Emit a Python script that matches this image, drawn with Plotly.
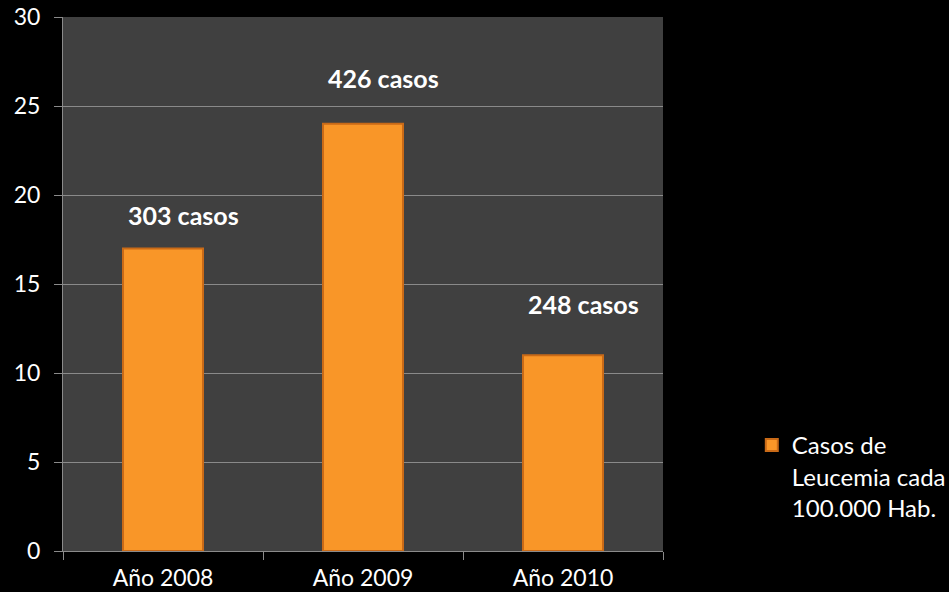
import plotly.graph_objects as go

# Leucemia: casos cada 100.000 habitantes por año
categorias = ["Año 2008", "Año 2009", "Año 2010"]
tasas = [17, 24, 11]
etiquetas = ["303 casos", "426 casos", "248 casos"]
posiciones_etiqueta = [18.9, 26.6, 13.9]
nombre_serie = "Casos de<br>Leucemia cada<br>100.000 Hab."

fuente = "Lato, 'Open Sans', sans-serif"
gris_eje = "#8a8a8a"

fig = go.Figure()
fig.add_trace(go.Bar(
    x=categorias,
    y=tasas,
    name=nombre_serie,
    width=0.4,
    marker=dict(color="#F99628", line=dict(color="#C96A17", width=2)),
    showlegend=True,
))

for cat, txt, ypos in zip(categorias, etiquetas, posiciones_etiqueta):
    fig.add_annotation(
        x=cat, y=ypos, text=f"<b>{txt}</b>", showarrow=False,
        xshift=20, font=dict(family=fuente, size=25, color="white"),
    )

fig.update_layout(
    width=949, height=592,
    margin=dict(l=63, r=286, t=17, b=41, autoexpand=False),
    paper_bgcolor="black",
    plot_bgcolor="#404040",
    font=dict(family=fuente, color="white", size=24),
    bargap=0.6,
    legend=dict(
        x=1.148, y=0.24, xanchor="left", yanchor="top", valign="top",
        font=dict(family=fuente, size=24, color="white"),
        bgcolor="rgba(0,0,0,0)", itemwidth=30, tracegroupgap=0,
    ),
)
fig.update_xaxes(
    showgrid=False, showline=True, linecolor=gris_eje, linewidth=1,
    ticks="outside", tickcolor=gris_eje, ticklen=8, tickson="boundaries",
    tickfont=dict(family=fuente, size=23, color="white"),
    ticklabelstandoff=6, automargin=False,
)
fig.update_yaxes(
    range=[0, 30], dtick=5, showgrid=True, gridcolor=gris_eje, gridwidth=1,
    showline=True, linecolor=gris_eje, linewidth=1,
    ticks="outside", tickcolor=gris_eje, ticklen=8,
    tickfont=dict(family=fuente, size=23, color="white"),
    ticklabelstandoff=9, zeroline=False, automargin=False,
)

fig.write_html("out.html")
